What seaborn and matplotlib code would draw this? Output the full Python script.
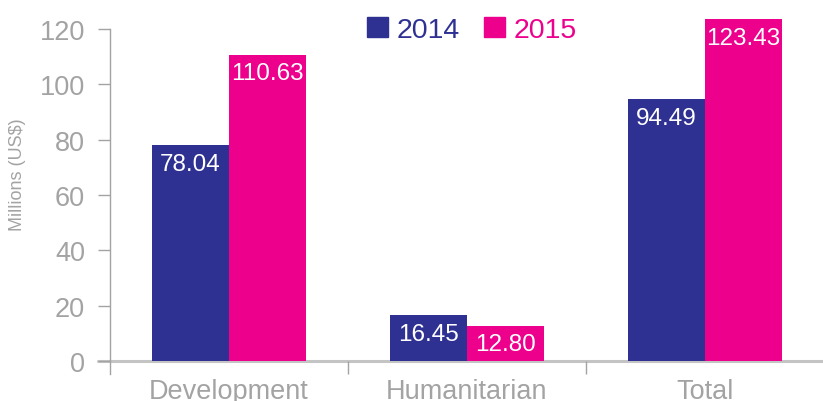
import pandas as pd
import matplotlib
matplotlib.use("Agg")
import matplotlib.pyplot as plt
import matplotlib.patches as mpatches
import seaborn as sns

sns.set_theme(style="white")
plt.rcParams["font.family"] = ["Liberation Sans", "DejaVu Sans"]

# ------------------------------------------------------
# DATA
# ------------------------------------------------------
categories = ["Development", "Humanitarian", "Total"]
years = ["2014", "2015"]
values_2014 = [78.04, 16.45, 94.49]
values_2015 = [110.63, 12.80, 123.43]
y_ticks = [0, 20, 40, 60, 80, 100, 120]

navy = "#2E3192"
magenta = "#EC008C"
grey = "#a3a3a3"

df = pd.DataFrame({
    "category": categories * 2,
    "year": [years[0]] * 3 + [years[1]] * 3,
    "value": values_2014 + values_2015,
})

# ------------------------------------------------------
# FIGURE
# ------------------------------------------------------
fig = plt.figure(figsize=(8.23, 4.02), dpi=100)
ax = fig.add_axes([110 / 823, 27 / 402, 714 / 823, 375 / 402])

sns.barplot(data=df, x="category", y="value", hue="year", order=categories,
            hue_order=years, palette=[navy, magenta], width=0.65,
            saturation=1, legend=False, ax=ax, errorbar=None, linewidth=0)

ax.set_xlim(-0.5, 2.5)
ax.set_ylim(-4.7, 130.8)

# bar value labels, inside the top of each bar
for patch, val in zip(ax.patches, values_2014 + values_2015):
    if patch.get_height() == 0:
        continue
    ax.annotate(f"{val:.2f}", (patch.get_x() + patch.get_width() / 2, patch.get_height()),
                xytext=(0, -5.5), textcoords="offset points", ha="center", va="top",
                color="white", fontsize=17.5)

# axes styling
for s in ["top", "right", "bottom"]:
    ax.spines[s].set_visible(False)
ax.spines["left"].set_color(grey)
ax.spines["left"].set_linewidth(1)
ax.spines["left"].set_bounds(-4.7, 120)

ax.axhline(0, xmin=-0.017, xmax=1, color="#c4c4c4", lw=2.2, clip_on=False, zorder=0.5)

ax.set_yticks(y_ticks)
ax.tick_params(axis="y", which="major", direction="out", length=8.6, width=1,
               color=grey, labelcolor=grey, labelsize=19.5, pad=9.4, left=True)

ax.set_xticks(range(len(categories)))
ax.set_xticklabels(categories)
ax.set_xticks([0.5, 1.5], minor=True)
ax.tick_params(axis="x", which="major", length=0, labelsize=19.5, labelcolor=grey, pad=3)
ax.tick_params(axis="x", which="minor", direction="in", length=9.4, width=1,
               color=grey, bottom=True)

ax.set_xlabel("")
ax.set_ylabel("Millions (US$)", fontsize=13, color=grey)
ax.yaxis.set_label_coords(-0.117, 0.533)

# legend
handles = [mpatches.Patch(color=navy, label=years[0]),
           mpatches.Patch(color=magenta, label=years[1])]
fig.legend(handles=handles, loc="upper center", bbox_to_anchor=(472 / 823, 1.02),
           ncol=2, frameon=False, fontsize=20.5, labelcolor=[navy, magenta],
           handlelength=0.75, handleheight=0.75, handletextpad=0.3, columnspacing=0.85)

fig.savefig("out.png", dpi=100)
plt.close(fig)
